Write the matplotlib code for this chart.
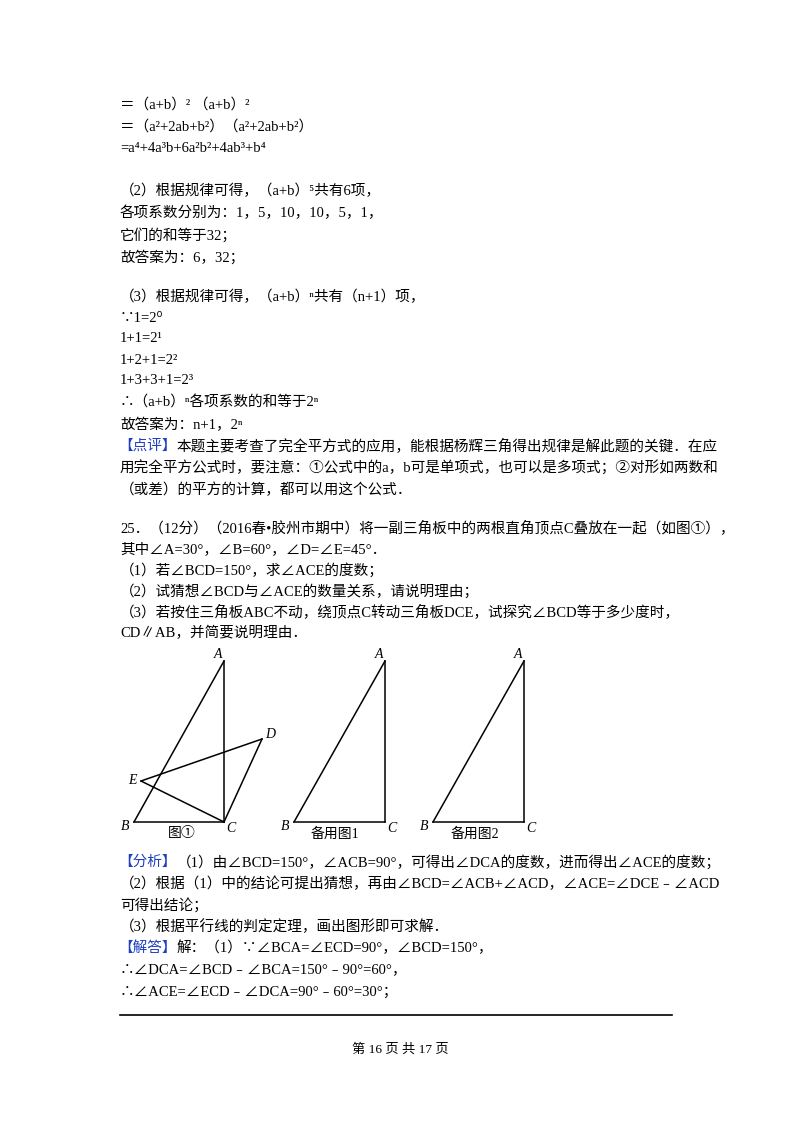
import matplotlib
matplotlib.use("Agg")
import matplotlib.pyplot as plt

plt.rcParams['font.family'] = ['Liberation Serif', 'Noto Sans CJK SC', 'DejaVu Sans']

# text lines: (y pixel, colored prefix, text)
lines = [
    (105, "", "＝（a+b）² （a+b）²"),
    (127, "", "＝（a²+2ab+b²）（a²+2ab+b²）"),
    (149, "", "=a⁴+4a³b+6a²b²+4ab³+b⁴"),
    (191, "", "（2）根据规律可得，（a+b）⁵共有6项，"),
    (213, "", "各项系数分别为：1，5，10，10，5，1，"),
    (235, "", "它们的和等于32；"),
    (257, "", "故答案为：6，32；"),
    (297, "", "（3）根据规律可得，（a+b）ⁿ共有（n+1）项，"),
    (318, "", "∵1=2⁰"),
    (339, "", "1+1=2¹"),
    (360, "", "1+2+1=2²"),
    (381, "", "1+3+3+1=2³"),
    (403, "", "∴（a+b）ⁿ各项系数的和等于2ⁿ"),
    (425, "", "故答案为：n+1，2ⁿ"),
    (446, "【点评】", "本题主要考查了完全平方式的应用，能根据杨辉三角得出规律是解此题的关键．在应"),
    (468, "", "用完全平方公式时，要注意：①公式中的a，b可是单项式，也可以是多项式；②对形如两数和"),
    (490, "", "（或差）的平方的计算，都可以用这个公式．"),
    (528, "", "25．（12分）（2016春•胶州市期中）将一副三角板中的两根直角顶点C叠放在一起（如图①），"),
    (549, "", "其中∠A=30°，∠B=60°，∠D=∠E=45°．"),
    (570, "", "（1）若∠BCD=150°，求∠ACE的度数；"),
    (591, "", "（2）试猜想∠BCD与∠ACE的数量关系，请说明理由；"),
    (612, "", "（3）若按住三角板ABC不动，绕顶点C转动三角板DCE，试探究∠BCD等于多少度时，"),
    (633, "", "CD∥AB，并简要说明理由．"),
    (862, "【分析】", "（1）由∠BCD=150°，∠ACB=90°，可得出∠DCA的度数，进而得出∠ACE的度数；"),
    (884, "", "（2）根据（1）中的结论可提出猜想，再由∠BCD=∠ACB+∠ACD，∠ACE=∠DCE﹣∠ACD"),
    (905, "", "可得出结论；"),
    (927, "", "（3）根据平行线的判定定理，画出图形即可求解．"),
    (948, "【解答】", "解：（1）∵∠BCA=∠ECD=90°，∠BCD=150°，"),
    (970, "", "∴∠DCA=∠BCD﹣∠BCA=150°﹣90°=60°，"),
    (992, "", "∴∠ACE=∠ECD﹣∠DCA=90°﹣60°=30°；"),
]

# figure points (pixel coords)
fig1 = {"A": (224, 661), "B": (134, 822), "C": (224, 822), "D": (262, 739), "E": (141, 781)}
fig1_segs = ["AB", "AC", "BC", "DC", "DE", "EC"]
fig2 = {"A": (385, 661), "B": (294, 822), "C": (385, 822)}
fig3 = {"A": (524, 661), "B": (433, 822), "C": (524, 822)}
tri_segs = ["AB", "AC", "BC"]
label_off = {"A": (-6, -6), "B": (-9, 4), "C": (7, 6), "D": (8, -4), "E": (-9, 0)}
captions = [(182, 834, "图①"), (335, 834, "备用图1"), (475, 834, "备用图2")]

fig = plt.figure(figsize=(8, 11.32), dpi=100)
ax = fig.add_axes([0, 0, 1, 1])
ax.set_xlim(0, 800)
ax.set_ylim(1132, 0)
ax.axis("off")

fs = 10.5
for y, pre, txt in lines:
    if pre:
        t = ax.text(118, y, pre, fontsize=fs, color="#1f3fbf", va="center")
        ax.annotate(txt, xy=(1, 0.5), xycoords=t, fontsize=fs, va="center", color="black")
    else:
        ax.text(120, y, txt, fontsize=fs, va="center")

for pts, segs in [(fig1, fig1_segs), (fig2, tri_segs), (fig3, tri_segs)]:
    for s in segs:
        p, q = pts[s[0]], pts[s[1]]
        ax.plot([p[0], q[0]], [p[1], q[1]], color="black", lw=1.1)
    for k, (x, y) in pts.items():
        dx, dy = label_off[k]
        ax.text(x + dx, y + dy, k, fontsize=10, style="italic", ha="center", va="center")
for x, y, c in captions:
    ax.text(x, y, c, fontsize=10, ha="center", va="center")

ax.plot([120, 672], [1015, 1015], color="black", lw=1.2)
ax.text(400, 1050, "第 16 页 共 17 页", fontsize=9.5, ha="center", va="center")

fig.savefig("out.png", dpi=100)
